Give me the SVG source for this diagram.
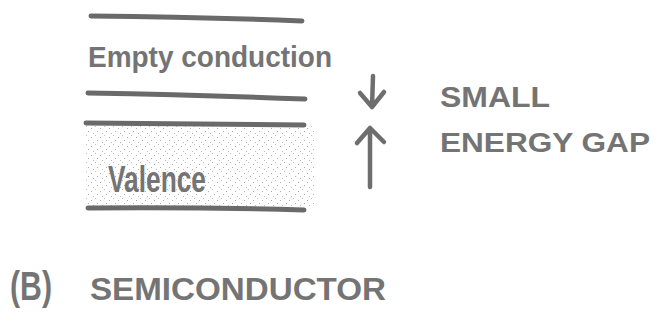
<svg xmlns="http://www.w3.org/2000/svg" width="670" height="327" viewBox="0 0 670 327">
  <style>
    .band { stroke: #6a6a6a; stroke-width: 5; stroke-linecap: round; fill: none; }
    .arrow { stroke: #6e6e6e; stroke-width: 4.5; stroke-linecap: round; stroke-linejoin: round; fill: none; }
    .hand { font-family: "Liberation Sans", "DejaVu Sans", sans-serif; font-weight: bold; fill: #747474; }
  </style>
  <defs>
    <!-- light pencil stipple used for the filled valence band -->
    <pattern id="stipple" width="9" height="9" patternUnits="userSpaceOnUse">
      <rect x="1" y="2" width="1" height="1" fill="#9a9a9a"/>
      <rect x="5" y="0" width="1" height="1" fill="#b0b0b0"/>
      <rect x="7" y="5" width="1" height="1" fill="#9a9a9a"/>
      <rect x="3" y="7" width="1" height="1" fill="#a8a8a8"/>
    </pattern>
  </defs>

  <rect width="670" height="327" fill="#ffffff"/>

  <!-- conduction band (empty) -->
  <g id="conduction-band">
    <path class="band" d="M91 16 Q200 17 302 21"/>
    <path class="band" d="M88 93 Q200 95 305 99"/>
    <text class="hand" x="88" y="67" font-size="29" textLength="244" lengthAdjust="spacingAndGlyphs">Empty conduction</text>
  </g>

  <!-- valence band (filled) -->
  <g id="valence-band">
    <rect x="86" y="125" width="230" height="82" fill="url(#stipple)" opacity="0.8"/>
    <path class="band" d="M86 123 Q200 124 304 125"/>
    <path class="band" d="M88 208 Q200 207 304 210"/>
    <text class="hand" x="108" y="192" font-size="36" textLength="98" lengthAdjust="spacingAndGlyphs">Valence</text>
  </g>

  <!-- gap arrows -->
  <g id="connectors">
    <path class="arrow" d="M373 76 L372 107 M360 93 L372 107 L384 92"/>
    <path class="arrow" d="M370 187 L370 128 M357 143 L370 128 L384 142"/>
  </g>

  <g id="gap-label">
    <text class="hand" x="440" y="107" font-size="29" textLength="110" lengthAdjust="spacingAndGlyphs">SMALL</text>
    <text class="hand" x="440" y="152" font-size="27" textLength="210" lengthAdjust="spacingAndGlyphs">ENERGY GAP</text>
  </g>

  <g id="caption">
    <text class="hand" x="10" y="300" font-size="40" textLength="42" lengthAdjust="spacingAndGlyphs">(B)</text>
    <text class="hand" x="90" y="300" font-size="31" textLength="296" lengthAdjust="spacingAndGlyphs">SEMICONDUCTOR</text>
  </g>
</svg>
